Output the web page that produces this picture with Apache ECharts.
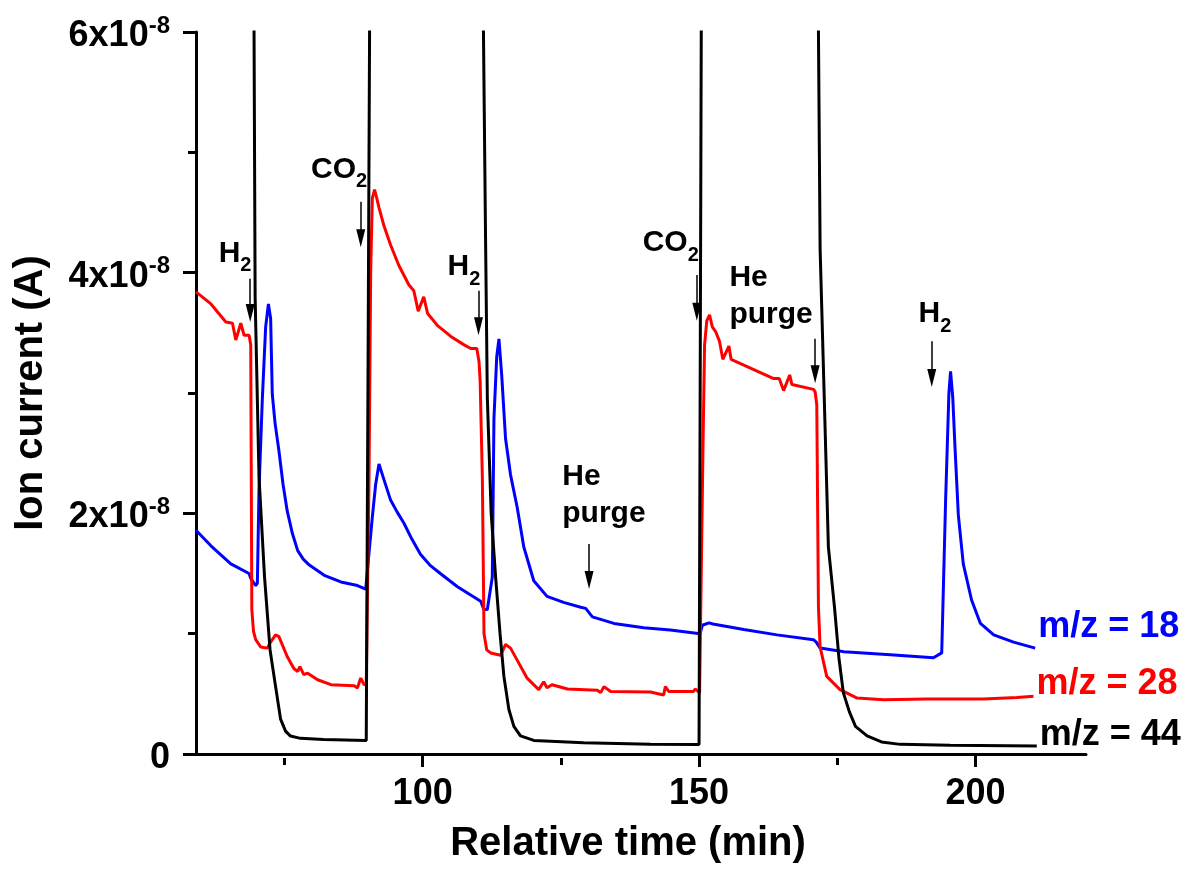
<!DOCTYPE html>
<html>
<head>
<meta charset="utf-8">
<title>Ion current</title>
<script src="https://cdn.jsdelivr.net/npm/echarts@6/dist/echarts.min.js"></script>
<style>
html,body{margin:0;padding:0;background:#fff;}
#main{width:1190px;height:869px;}
</style>
</head>
<body>
<div id="main"></div>
<script>
var FONT = '"Liberation Sans", Arial, Helvetica, sans-serif';

// time (min) and ion current (x1e-8 A); 20 = off scale (above 6e-8)
var t18 = [59.0, 61.7, 65.3, 68.6, 68.9, 69.8, 70.1, 70.4, 71.0, 71.6, 72.1, 72.5, 72.8, 73.3, 74.0, 74.75, 75.5, 76.45, 77.4, 78.4, 79.5, 82.2, 85.2, 88.2, 89.7, 90.0, 90.9, 91.5, 92.1, 93.0, 94.2, 95.4, 96.6, 98.0, 99.6, 101.3, 103.2, 106.3, 110.5, 111.1, 111.7, 112.6, 112.9, 113.4, 113.8, 114.3, 115.0, 115.9, 117.1, 118.3, 120.1, 122.5, 125.5, 128.6, 129.5, 130.7, 134.6, 140.0, 144.8, 150.2, 150.6, 151.8, 152.5, 158.1, 164.1, 170.7, 171.2, 171.9, 176.2, 184.6, 192.4, 193.9, 194.6, 195.2, 195.5, 195.9, 196.3, 196.9, 197.8, 199.3, 200.9, 203.3, 206.9, 210.8];
var v18 = [1.86, 1.73, 1.58, 1.50, 1.46, 1.40, 1.42, 2.20, 2.95, 3.55, 3.74, 3.62, 2.99, 2.75, 2.52, 2.24, 2.02, 1.83, 1.69, 1.62, 1.57, 1.485, 1.43, 1.40, 1.37, 1.36, 1.97, 2.24, 2.41, 2.28, 2.11, 2.01, 1.92, 1.79, 1.66, 1.57, 1.50, 1.39, 1.27, 1.20, 1.20, 1.47, 2.79, 3.30, 3.45, 3.15, 2.62, 2.32, 2.05, 1.72, 1.44, 1.31, 1.26, 1.22, 1.21, 1.14, 1.085, 1.05, 1.03, 1.00, 1.07, 1.09, 1.08, 1.035, 0.99, 0.95, 0.93, 0.88, 0.85, 0.824, 0.80, 0.84, 2.10, 3.00, 3.18, 2.96, 2.55, 1.99, 1.58, 1.28, 1.085, 0.99, 0.93, 0.88];

var t28 = [59.0, 61.7, 64.4, 65.6, 66.2, 67.1, 67.7, 68.6, 68.9, 69.0, 69.1, 69.4, 69.8, 70.7, 71.9, 72.5, 73.4, 74.0, 75.5, 76.7, 77.4, 77.8, 78.5, 79.2, 81.0, 83.4, 87.6, 88.2, 88.8, 89.4, 89.8, 90.3, 90.6, 90.9, 91.3, 91.7, 92.1, 93.0, 94.2, 95.7, 97.5, 98.4, 99.2, 100.2, 100.9, 102.7, 105.1, 107.5, 108.7, 109.8, 110.2, 110.4, 110.8, 111.1, 111.6, 112.3, 114.1, 115.0, 115.9, 117.1, 118.9, 121.0, 121.9, 122.5, 123.4, 126.2, 131.6, 132.2, 132.8, 134.0, 141.2, 143.6, 143.9, 144.5, 149.0, 149.3, 150.1, 150.7, 151.0, 151.4, 151.9, 152.4, 153.0, 153.7, 154.3, 155.4, 155.8, 158.7, 163.5, 164.5, 165.3, 166.4, 166.8, 170.7, 171.0, 171.3, 171.6, 171.9, 173.1, 175.5, 178.6, 183.4, 191.2, 201.4, 207.5, 210.5];
var v28 = [3.84, 3.74, 3.59, 3.58, 3.44, 3.58, 3.48, 3.48, 3.40, 2.30, 1.20, 1.02, 0.95, 0.89, 0.88, 0.93, 0.99, 0.975, 0.81, 0.71, 0.686, 0.727, 0.659, 0.672, 0.617, 0.576, 0.568, 0.548, 0.631, 0.576, 0.58, 2.30, 4.00, 4.62, 4.69, 4.62, 4.54, 4.39, 4.23, 4.06, 3.90, 3.85, 3.68, 3.80, 3.66, 3.56, 3.47, 3.40, 3.37, 3.37, 3.26, 3.10, 2.30, 1.00, 0.865, 0.84, 0.82, 0.91, 0.88, 0.78, 0.63, 0.535, 0.60, 0.55, 0.576, 0.54, 0.53, 0.51, 0.56, 0.52, 0.515, 0.49, 0.56, 0.52, 0.52, 0.54, 0.51, 2.50, 3.40, 3.60, 3.65, 3.55, 3.51, 3.43, 3.28, 3.39, 3.28, 3.22, 3.12, 3.12, 3.02, 3.15, 3.07, 3.03, 3.01, 2.90, 1.22, 0.89, 0.645, 0.535, 0.465, 0.45, 0.457, 0.457, 0.47, 0.48];

var t44 = [59.0, 69.3, 69.5, 69.7, 70.4, 71.4, 72.4, 73.4, 74.3, 75.2, 76.1, 77.9, 82.1, 89.8, 90.1, 90.4, 90.5, 110.9, 111.0, 111.4, 111.7, 112.4, 113.2, 114.0, 114.7, 115.6, 116.5, 117.7, 120.1, 129.1, 141.2, 150.0, 150.2, 150.4, 150.5, 171.4, 171.6, 171.9, 173.4, 174.5, 175.3, 176.1, 177.2, 178.3, 180.4, 183.0, 186.4, 195.4, 211.1];
var v44 = [20, 20, 6.0, 3.79, 2.30, 1.47, 0.865, 0.56, 0.29, 0.19, 0.149, 0.13, 0.12, 0.113, 3.0, 6.0, 20, 20, 6.0, 4.2, 2.96, 2.0, 1.47, 1.0, 0.645, 0.37, 0.23, 0.15, 0.113, 0.093, 0.08, 0.078, 3.0, 6.0, 20, 20, 6.0, 4.2, 1.72, 1.22, 0.80, 0.51, 0.35, 0.23, 0.15, 0.10, 0.08, 0.072, 0.066];

var xMajorTicks = [100, 150, 200];
var xMinorTicks = [75, 125, 175];
var seriesNames = ['m/z = 18', 'm/z = 28', 'm/z = 44'];

// arrows: x, start value, head value
var arrowX = [68.8, 88.8, 110.1, 130.1, 149.6, 171.0, 192.1];
var arrowTop = [3.95, 4.59, 3.85, 1.745, 3.98, 3.45, 3.43];
var arrowEnd = [3.665, 4.285, 3.555, 1.445, 3.675, 3.155, 3.125];

// annotation text: top-left corner
var noteX = [63.1, 79.8, 104.5, 125.25, 139.8, 155.5, 189.7];
var noteY = [4.28, 4.98, 4.17, 2.46, 4.37, 4.11, 3.78];
var noteText = ['{n|H}{s|2}', '{n|CO}{s|2}', '{n|H}{s|2}', '{m|He}\n{m|purge}', '{n|CO}{s|2}', '{m|He}\n{m|purge}', '{n|H}{s|2}'];

function zip(a, b){
	return a.map(function(x, i){ return [x, b[i]]; });
}

function lineSeries(name, t, v, color, offsetY){
	return {
		name: name,
		type: 'line',
		data: zip(t, v),
		showSymbol: false,
		symbol: 'none',
		clip: true,
		lineStyle: { color: color, width: 3 },
		itemStyle: { color: color },
		endLabel: {
			show: true,
			formatter: name,
			distance: 3,
			offset: [0, offsetY],
			color: color,
			fontSize: 36,
			fontWeight: 'bold',
			fontFamily: FONT
		}
	};
}

var chart = echarts.init(document.getElementById('main'), null, { renderer: 'canvas' });

var option = {
	animation: false,
	backgroundColor: '#fff',
	grid: [
		{ left: 196, right: 104, top: 32, bottom: 111 },
		{ left: 196, right: 104, top: 32, bottom: 111 }
	],
	xAxis: [
		{
			type: 'value',
			gridIndex: 0,
			min: 59,
			max: 220,
			name: 'Relative time (min)',
			nameLocation: 'middle',
			nameGap: 70,
			nameTextStyle: { fontSize: 40, fontWeight: 'bold', color: '#000', fontFamily: FONT, padding: [0, 26, 0, 0] },
			axisLine: { show: true, onZero: false, lineStyle: { color: '#000', width: 3 } },
			axisTick: { show: true, inside: false, length: 13, customValues: xMajorTicks, lineStyle: { color: '#000', width: 3 } },
			axisLabel: { show: true, customValues: xMajorTicks, margin: 22, color: '#000', fontSize: 36, fontWeight: 'bold', fontFamily: FONT },
			splitLine: { show: false }
		},
		{
			type: 'value',
			gridIndex: 1,
			min: 59,
			max: 220,
			position: 'bottom',
			axisLine: { show: false },
			axisTick: { show: true, inside: false, length: 7, customValues: xMinorTicks, lineStyle: { color: '#000', width: 3 } },
			axisLabel: { show: false },
			splitLine: { show: false }
		}
	],
	yAxis: [
		{
			type: 'value',
			gridIndex: 0,
			min: 0,
			max: 6,
			interval: 2,
			name: 'Ion current (A)',
			nameLocation: 'middle',
			nameGap: 145,
			nameTextStyle: { fontSize: 40, fontWeight: 'bold', color: '#000', fontFamily: FONT },
			axisLine: { show: true, onZero: false, lineStyle: { color: '#000', width: 3 } },
			axisTick: { show: true, inside: false, length: 13, lineStyle: { color: '#000', width: 3 } },
			minorTick: { show: true, splitNumber: 2, length: 8, lineStyle: { color: '#000', width: 3 } },
			splitLine: { show: false },
			minorSplitLine: { show: false },
			axisLabel: {
				margin: 26,
				color: '#000',
				fontFamily: FONT,
				formatter: function(v){
					return v === 0 ? '{b|0}' : '{b|' + v + 'x10}{p|-8}';
				},
				rich: {
					b: { fontSize: 36, fontWeight: 'bold', lineHeight: 36, padding: [4, 0, 0, 0], verticalAlign: 'top', color: '#000', fontFamily: FONT },
					p: { fontSize: 24, fontWeight: 'bold', lineHeight: 24, verticalAlign: 'top', color: '#000', fontFamily: FONT }
				}
			}
		},
		{
			type: 'value',
			gridIndex: 1,
			min: 0,
			max: 6,
			show: false
		}
	],
	series: [
		lineSeries(seriesNames[0], t18, v18, '#0000ff', -21),
		lineSeries(seriesNames[1], t28, v28, '#ff0000', -12),
		lineSeries(seriesNames[2], t44, v44, '#000000', -11),
		{
			name: 'notes',
			type: 'scatter',
			silent: true,
			symbolSize: 0,
			itemStyle: { opacity: 1, color: '#000' },
			data: noteX.map(function(x, i){ return { value: [x, noteY[i]], text: noteText[i] }; }),
			label: {
				show: true,
				position: [0, 0],
				align: 'left',
				verticalAlign: 'top',
				color: '#000',
				opacity: 1,
				formatter: function(p){ return p.data.text; },
				rich: {
					n: { fontSize: 30, fontWeight: 'bold', lineHeight: 30, verticalAlign: 'top', color: '#000', fontFamily: FONT },
					s: { fontSize: 20, fontWeight: 'bold', lineHeight: 20, padding: [17, 0, 0, 0], verticalAlign: 'top', color: '#000', fontFamily: FONT },
					m: { fontSize: 30, fontWeight: 'bold', lineHeight: 37, color: '#000', fontFamily: FONT }
				}
			},
			markLine: {
				silent: true,
				symbol: ['none', 'triangle'],
				symbolSize: [9, 18],
				label: { show: false },
				lineStyle: { color: '#000', width: 1.5, type: 'solid', opacity: 1 },
				itemStyle: { color: '#000' },
				data: arrowX.map(function(x, i){
					return [{ coord: [x, arrowTop[i]] }, { coord: [x, arrowEnd[i]] }];
				})
			}
		}
	]
};

chart.setOption(option);
</script>
</body>
</html>
